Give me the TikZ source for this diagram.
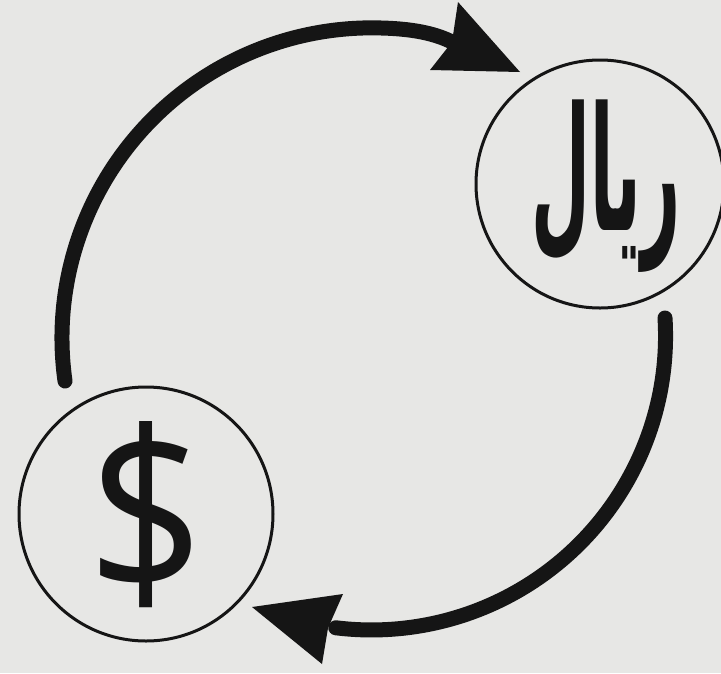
\documentclass[tikz,border=0pt]{standalone}
\usepackage{fontspec}
\setsansfont{Open Sans}
\newfontfamily\arabicfont[Script=Arabic]{DejaVu Sans}
\TeXXeTstate=1
\definecolor{bg}{HTML}{E7E7E5}
\definecolor{ink}{HTML}{151515}
\begin{document}
\begin{tikzpicture}[x=1pt,y=-1pt,
  ring/.style={draw=ink,line width=3pt,circle,minimum size=#1,inner sep=0pt},
  flow/.style={draw=ink,line width=15pt,line cap=round,line join=round},
  tipfill/.style={fill=ink}]
\useasboundingbox (0,0) rectangle (721,673);
\clip (0,0) rectangle (721,673);
\fill[bg] (0,0) rectangle (721,673);
% currency circles (image coordinates, y downwards)
\node[ring=248pt] (riyal) at (600,184) {};
\node[ring=254pt] (usd) at (146,514) {};
\node[font=\sffamily\fontsize{228}{228}\selectfont,text=ink,xscale=0.9] (dollar) at ([yshift=-1pt]usd.center) {\$};
\node[font=\arabicfont\bfseries\fontsize{80}{80}\selectfont,text=ink,xscale=0.85,yscale=2.15] (rtxt) at ([yshift=-2pt,xshift=6pt]riyal.center) {\beginR ريال\endR};
% upper arrow
\coordinate (t1start) at (65,381);
\coordinate (t1tip) at (520,72);
\coordinate (t1a) at (458,2);
\coordinate (t1n) at (452,42);
\coordinate (t1b) at (430,70);
\draw[flow] (t1start) arc[start angle=172,end angle=272,radius=310]
  .. controls +(35,1) and (438,35) .. (t1n);
\fill[tipfill] (t1tip) -- (t1a) -- (t1n) -- (t1b) -- cycle;
% lower arrow
\coordinate (t2start) at (665,318);
\coordinate (t2tip) at (252,607);
\coordinate (t2a) at (343,594);
\coordinate (t2n) at (328,628);
\coordinate (t2b) at (322,664);
\draw[flow] (t2start) arc[start angle=-3.5,end angle=97,radius=294];
\fill[tipfill] (t2tip) -- (t2a) -- (t2n) -- (t2b) -- cycle;
\end{tikzpicture}
\end{document}
